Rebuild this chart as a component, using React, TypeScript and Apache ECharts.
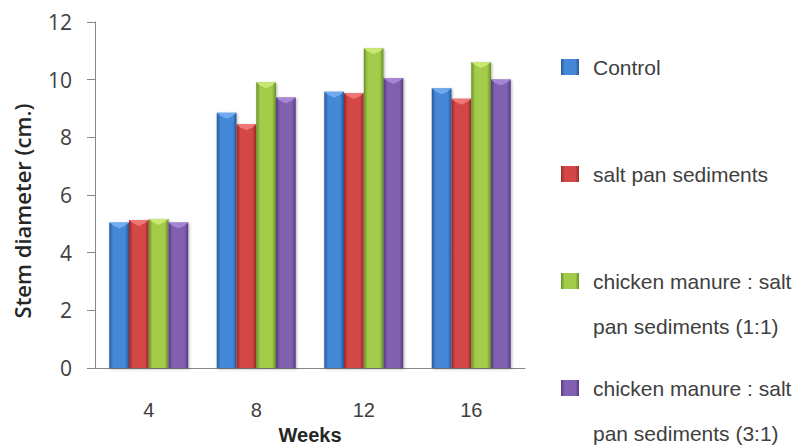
import React, { useEffect, useRef } from "react";
import * as echarts from "echarts";

const weeks = ["4", "8", "12", "16"];
const seriesNames = [
  "Control",
  "salt pan sediments",
  "chicken manure : salt pan sediments (1:1)",
  "chicken manure : salt pan sediments (3:1)",
];
const legendFirstLines = ["Control", "salt pan sediments", "chicken manure : salt", "chicken manure : salt"];
const legendSecondLines = ["", "", "pan sediments (1:1)", "pan sediments (3:1)"];
const control = [5.05, 8.85, 9.58, 9.7];
const saltPan = [5.13, 8.45, 9.54, 9.34];
const chicken11 = [5.17, 9.91, 11.09, 10.61];
const chicken31 = [5.05, 9.38, 10.06, 10.01];
const yTicks = [0, 2, 4, 6, 8, 10, 12];

const palettes = [
  { edge: "#28599a", mid: "#4588d8", cap: "#74b0f0" },
  { edge: "#9a2828", mid: "#d44646", cap: "#f07c7c" },
  { edge: "#6a8f2c", mid: "#a2cc48", cap: "#cdea78" },
  { edge: "#553a80", mid: "#8160b2", cap: "#ab8ad8" },
];

const GAP = 0.265;

function grad(p: { edge: string; mid: string }) {
  return new echarts.graphic.LinearGradient(0, 0, 1, 0, [
    { offset: 0, color: p.edge },
    { offset: 0.2, color: p.mid },
    { offset: 0.8, color: p.mid },
    { offset: 1, color: p.edge },
  ]);
}

export default function App() {
  const ref = useRef<HTMLDivElement>(null);
  useEffect(() => {
    if (!ref.current) return;
    const chart = echarts.init(ref.current, undefined, { renderer: "svg" });
    const values = [control, saltPan, chicken11, chicken31];
    const textColor = "#404040";
    const bars = values.map((d, i) => ({
      name: seriesNames[i],
      type: "bar",
      data: d,
      barGap: "0%",
      barCategoryGap: GAP * 100 + "%",
      itemStyle: {
        color: grad(palettes[i]),
        shadowBlur: 3,
        shadowColor: "rgba(0,0,0,0.3)",
        shadowOffsetX: 1,
        shadowOffsetY: 1,
      },
    }));
    const caps = values.map((d, i) => ({
      type: "custom",
      z: 5,
      silent: true,
      data: d.map((v, c) => [c, v]),
      renderItem: (params: any, api: any) => {
        const c = api.value(0);
        const v = api.value(1);
        const pt = api.coord([c, v]);
        const band = api.size([1, 0])[0];
        const bw = (band * (1 - GAP)) / 4;
        const x0 = pt[0] - 2 * bw + i * bw;
        const x1 = x0 + bw;
        const y = pt[1];
        const h = Math.min(6, bw * 0.35);
        return {
          type: "polygon",
          shape: {
            points: [
              [x0, y],
              [x1, y],
              [x1 - h * 0.6, y + h * 0.5],
              [(x0 + x1) / 2, y + h],
              [x0 + h * 0.6, y + h * 0.5],
            ],
          },
          style: { fill: palettes[i].cap, opacity: 0.9 },
        };
      },
    }));
    chart.setOption({
      animation: false,
      backgroundColor: "#ffffff",
      grid: { left: 95, right: 281, top: 22, bottom: 80, containLabel: false, outerBoundsMode: "none" },
      legend: {
        orient: "vertical",
        left: 556,
        top: 51.5,
        itemWidth: 18,
        itemHeight: 16,
        itemGap: 86,
        icon: "rect",
        data: seriesNames,
        formatter: (name: string) => legendFirstLines[seriesNames.indexOf(name)],
        textStyle: {
          fontFamily: "Liberation Sans",
          fontSize: 21,
          lineHeight: 21,
          color: textColor,
          padding: [0, 0, 0, 9],
        },
      },
      xAxis: {
        type: "category",
        data: weeks,
        name: "Weeks",
        nameLocation: "middle",
        nameGap: 57,
        nameTextStyle: {
          fontFamily: "Liberation Sans",
          fontSize: 20,
          fontWeight: "bold",
          color: "#262626",
        },
        axisLine: { lineStyle: { color: "#868686", width: 1 } },
        axisTick: { length: 10, lineStyle: { color: "#868686" } },
        axisLabel: {
          fontFamily: "Liberation Sans",
          fontSize: 20,
          color: textColor,
          margin: 32,
        },
      },
      yAxis: {
        type: "value",
        min: 0,
        max: 12,
        interval: 2,
        splitLine: { show: false },
        axisLine: { show: true, lineStyle: { color: "#868686", width: 1 } },
        axisTick: { show: true, length: 8, lineStyle: { color: "#868686" } },
        axisLabel: {
          fontFamily: "Open Sans",
          fontSize: 21,
          color: textColor,
          margin: 23,
          formatter: (v: number) => (yTicks.includes(v) ? String(v) : ""),
        },
      },
      graphic: [
        {
          type: "text",
          x: 22,
          y: 211,
          rotation: Math.PI / 2,
          style: {
            text: "Stem diameter (cm.)",
            fontFamily: "Open Sans",
            fontSize: 22,
            fontWeight: 600,
            fill: "#262626",
            align: "center",
            verticalAlign: "middle",
          },
        },
        ...legendSecondLines
          .map((t, i) => ({ t, i }))
          .filter((o) => o.t)
          .map((o) => ({
            type: "text",
            x: 593,
            y: 67 + o.i * 107 + 45,
            style: {
              text: o.t,
              fontFamily: "Liberation Sans",
              fontSize: 21,
              fill: textColor,
              align: "left",
              verticalAlign: "middle",
            },
          })),
      ],
      series: [...bars, ...caps],
    });
    return () => chart.dispose();
  }, []);
  return <div ref={ref} style={{ width: 806, height: 448, position: "absolute", left: 0, top: 0 }} />;
}
